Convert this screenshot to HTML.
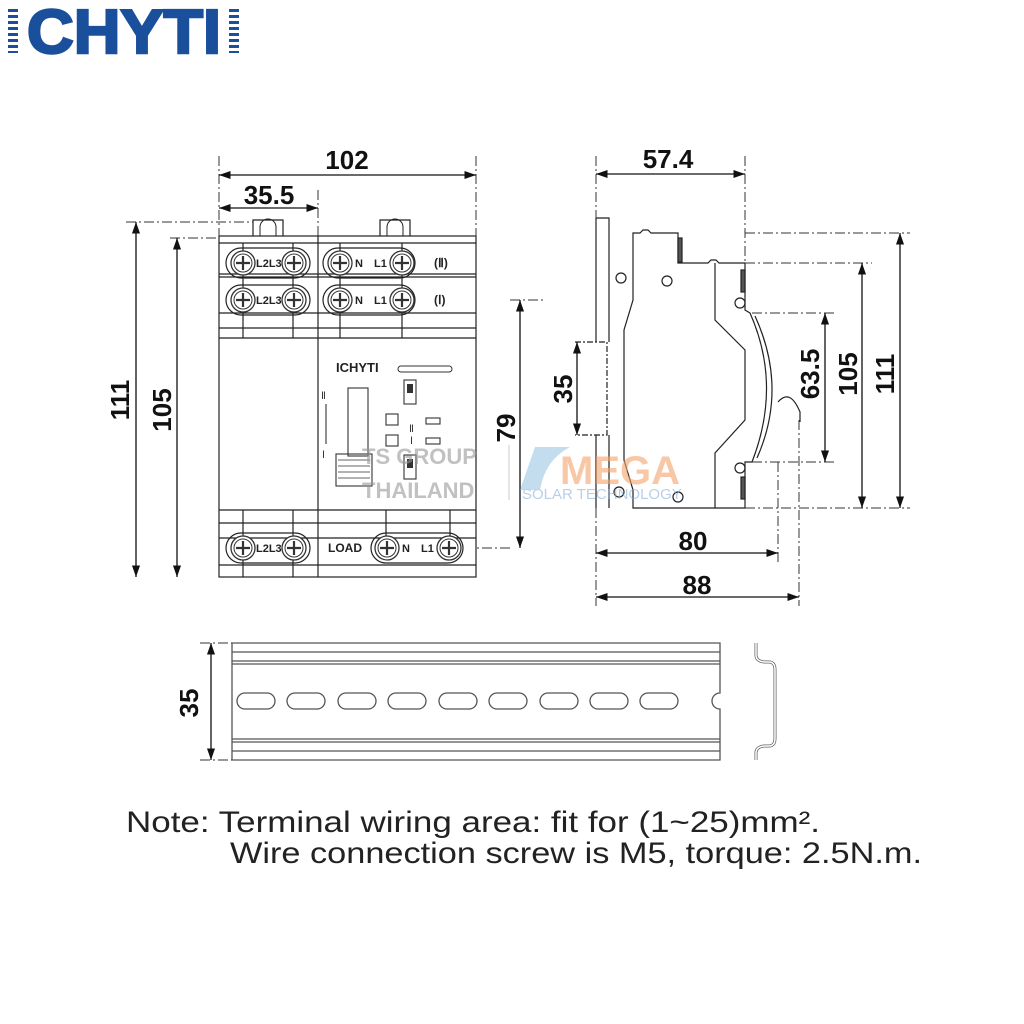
<!DOCTYPE html>
<html><head><meta charset="utf-8"><style>
html,body{margin:0;padding:0;background:#fff;}
svg{display:block;}
text{font-family:"Liberation Sans",sans-serif;}
</style></head><body>
<svg width="1024" height="1024" viewBox="0 0 1024 1024" xmlns="http://www.w3.org/2000/svg">
<defs>
<marker id="a" viewBox="0 0 10 10" refX="10" refY="5" markerWidth="9" markerHeight="9" orient="auto-start-reverse"><path d="M0,1.5 L10,5 L0,8.5 z" fill="#111"/></marker>
<g id="scr"><circle r="12" fill="#fff" stroke="#333" stroke-width="1.3"/><circle r="9" fill="none" stroke="#333" stroke-width="1"/><path d="M-7,0H7M0,-7V7" stroke="#333" stroke-width="2.2"/></g>
<g id="slot"><rect x="-19" y="-8" width="38" height="16" rx="8" fill="#fff" stroke="#555" stroke-width="1.3"/></g>
</defs>

<!-- logo -->
<g fill="#1a4f9c">
<g id="st"><rect x="8" y="9" width="10" height="3"/><rect x="8" y="15" width="10" height="3"/><rect x="8" y="21" width="10" height="3"/><rect x="8" y="27" width="10" height="3"/><rect x="8" y="33" width="10" height="3"/><rect x="8" y="39" width="10" height="3"/><rect x="8" y="45" width="10" height="3"/><rect x="8" y="51" width="10" height="2"/></g>
<use href="#st" x="221"/>
<text x="27" y="53" font-size="62" font-weight="bold" stroke="#1a4f9c" stroke-width="2.5" textLength="194" lengthAdjust="spacingAndGlyphs">CHYTI</text>
</g>

<g stroke="#222" stroke-width="1.2" fill="none">
<!-- front view -->
<rect x="219" y="236" width="257" height="341"/>
<line x1="318" y1="236" x2="318" y2="577"/>
<path d="M253,236V220H283V236M380,236V220H410V236"/>
<path d="M260,236v-9a8,8 0 0 1 16,0v9M387,236v-9a8,8 0 0 1 16,0v9" stroke-width="1"/>
<line x1="219" y1="243" x2="476" y2="243"/>
<line x1="219" y1="274" x2="476" y2="274"/><line x1="219" y1="277" x2="476" y2="277"/>
<line x1="219" y1="313" x2="476" y2="313"/><line x1="219" y1="328" x2="476" y2="328"/>
<line x1="219" y1="338" x2="476" y2="338"/>
<line x1="219" y1="510" x2="476" y2="510"/><line x1="219" y1="523" x2="476" y2="523"/>
<line x1="219" y1="538" x2="476" y2="538"/><line x1="219" y1="565" x2="476" y2="565"/>
<path d="M243,243V338M293,243V338M340,243V338M402,243V338M243,510V577M293,510V577M386,510V538M450,510V538"/>
<rect x="226" y="248" width="84" height="30" rx="15"/><rect x="323" y="248" width="92" height="30" rx="15"/>
<rect x="226" y="285" width="84" height="30" rx="15"/><rect x="323" y="285" width="92" height="30" rx="15"/>
<rect x="226" y="533" width="84" height="30" rx="15"/><rect x="371" y="533" width="92" height="30" rx="15"/>
</g>
<use href="#scr" x="243" y="263"/><use href="#scr" x="294" y="263"/><use href="#scr" x="340" y="263"/><use href="#scr" x="402" y="263"/>
<use href="#scr" x="243" y="300"/><use href="#scr" x="294" y="300"/><use href="#scr" x="340" y="300"/><use href="#scr" x="402" y="300"/>
<use href="#scr" x="243" y="548"/><use href="#scr" x="294" y="548"/><use href="#scr" x="387" y="548"/><use href="#scr" x="449" y="548"/>
<g font-size="11" font-weight="bold" fill="#222">
<text x="256" y="267">L2L3</text><text x="256" y="304">L2L3</text><text x="256" y="552">L2L3</text>
<text x="355" y="267">N</text><text x="374" y="267">L1</text>
<text x="355" y="304">N</text><text x="374" y="304">L1</text>
<text x="402" y="552">N</text><text x="421" y="552">L1</text>
<text x="328" y="552" font-size="12">LOAD</text>
<text x="434" y="267" font-size="12">(Ⅱ)</text><text x="434" y="304" font-size="12">(Ⅰ)</text>
</g>
<text x="336" y="372" font-size="13" font-weight="bold" fill="#222">ICHYTI</text>
<rect x="398" y="366" width="54" height="6" rx="3" fill="none" stroke="#333"/>
<g stroke="#333" fill="none" stroke-width="1.1">
<rect x="348" y="388" width="20" height="68"/>
<rect x="336" y="454" width="36" height="32"/>
<path d="M338,460H370M338,466H370M338,472H370M338,478H370" stroke-width="0.8"/>
<line x1="326" y1="404" x2="326" y2="444"/>
<rect x="404" y="380" width="12" height="24"/><rect x="404" y="455" width="12" height="24"/>
<rect x="386" y="414" width="12" height="11"/><rect x="386" y="435" width="12" height="11"/>
<rect x="426" y="418" width="14" height="6"/><rect x="426" y="438" width="14" height="6"/>
</g>
<rect x="407" y="384" width="6" height="9" fill="#333"/><rect x="407" y="459" width="6" height="9" fill="#333"/>
<g font-size="10" fill="#333" font-family="Liberation Serif"><text x="321" y="399">Ⅱ</text><text x="322" y="458">Ⅰ</text><text x="409" y="432">Ⅱ</text><text x="410" y="444">Ⅰ</text></g>

<!-- side view -->
<g stroke="#222" stroke-width="1.2" fill="none">
<path d="M596,218H609V233"/>
<path d="M596,218V342M596,435V508"/>
<path d="M609,233V342M609,435V508"/>
<path d="M575,342H607V435H575" stroke-dasharray="6,2,2,2"/>
<path d="M633,233H640l3,-3h5l3,3H678V263H708l3,-3h5l3,3H745V310L750,313 Q782,385 752,462L745,462V508H633V490L624,460V330L633,300Z"/>
<path d="M715,263V320L745,350V420L715,453V508"/>
<path d="M755,316 Q788,388 757,458" />
<rect x="678" y="238" width="4" height="24" fill="#555"/>
<rect x="741" y="270" width="4" height="22" fill="#555"/><rect x="741" y="477" width="4" height="22" fill="#555"/>
<path d="M778,402 q12,-14 22,10 v10" />
<circle cx="621" cy="278" r="5"/><circle cx="667" cy="281" r="5"/><circle cx="740" cy="303" r="5"/>
<circle cx="740" cy="468" r="5"/><circle cx="619" cy="492" r="5"/><circle cx="678" cy="497" r="5"/>
</g>

<!-- rail -->
<g stroke="#555" stroke-width="1.3" fill="none">
<path d="M232,643H720V693a8,8 0 0 0 0,16V760H232Z"/>
<line x1="232" y1="652" x2="720" y2="652"/><line x1="232" y1="661" x2="720" y2="661"/><line x1="232" y1="664" x2="720" y2="664"/>
<line x1="232" y1="739" x2="720" y2="739"/><line x1="232" y1="742" x2="720" y2="742"/><line x1="232" y1="751" x2="720" y2="751"/>
<path d="M756,643V655q0,6 8,7h5q6,0 6,8V738q0,8 -6,8h-5q-8,1 -8,7V760" stroke-width="3" stroke="#666"/>
<path d="M756,643V655q0,6 8,7h5q6,0 6,8V738q0,8 -6,8h-5q-8,1 -8,7V760" stroke-width="1.5" stroke="#fff"/>
</g>
<use href="#slot" x="256" y="701"/><use href="#slot" x="306" y="701"/><use href="#slot" x="357" y="701"/><use href="#slot" x="407" y="701"/><use href="#slot" x="458" y="701"/><use href="#slot" x="508" y="701"/><use href="#slot" x="559" y="701"/><use href="#slot" x="609" y="701"/><use href="#slot" x="659" y="701"/>

<g stroke="#333" stroke-width="1" stroke-dasharray="10,3,2,3" fill="none">
<path d="M219,156V236M476,156V236M318,190V236"/>
<path d="M126,222H253M170,238H219M510,300H545M510,548H476"/>
<path d="M596,156V218M745,156V263M596,508V606M778,462V565M799,420V606"/>
<path d="M745,233H910M745,263H872M752,313H835M752,462H835M745,508H910"/>
<path d="M200,643H232M200,760H232"/>
</g>
<g stroke="#111" stroke-width="1.3">
<line x1="219" y1="175" x2="476" y2="175" marker-start="url(#a)" marker-end="url(#a)"/>
<line x1="219" y1="208" x2="318" y2="208" marker-start="url(#a)" marker-end="url(#a)"/>
<line x1="136" y1="222" x2="136" y2="577" marker-start="url(#a)" marker-end="url(#a)"/>
<line x1="177" y1="238" x2="177" y2="577" marker-start="url(#a)" marker-end="url(#a)"/>
<line x1="520" y1="300" x2="520" y2="548" marker-start="url(#a)" marker-end="url(#a)"/>
<line x1="596" y1="174" x2="745" y2="174" marker-start="url(#a)" marker-end="url(#a)"/>
<line x1="596" y1="553" x2="778" y2="553" marker-start="url(#a)" marker-end="url(#a)"/>
<line x1="596" y1="597" x2="799" y2="597" marker-start="url(#a)" marker-end="url(#a)"/>
<line x1="825" y1="313" x2="825" y2="462" marker-start="url(#a)" marker-end="url(#a)"/>
<line x1="862" y1="263" x2="862" y2="508" marker-start="url(#a)" marker-end="url(#a)"/>
<line x1="900" y1="233" x2="900" y2="508" marker-start="url(#a)" marker-end="url(#a)"/>
<line x1="211" y1="643" x2="211" y2="760" marker-start="url(#a)" marker-end="url(#a)"/>
<line x1="577" y1="342" x2="577" y2="435" marker-start="url(#a)" marker-end="url(#a)"/>
</g>
<g font-size="26" font-weight="bold" fill="#111" text-anchor="middle">
<text x="347" y="169">102</text><text x="269" y="204">35.5</text>
<text x="668" y="168">57.4</text><text x="693" y="550">80</text><text x="697" y="594">88</text>
<text transform="translate(129,400) rotate(-90)">111</text>
<text transform="translate(171,410) rotate(-90)">105</text>
<text transform="translate(515,428) rotate(-90)">79</text>
<text transform="translate(572,389) rotate(-90)">35</text>
<text transform="translate(819,374) rotate(-90)">63.5</text>
<text transform="translate(857,374) rotate(-90)">105</text>
<text transform="translate(894,374) rotate(-90)">111</text>
<text transform="translate(198,703) rotate(-90)">35</text>
</g>

<g opacity="0.6">
<text x="362" y="464" font-size="22" font-weight="bold" fill="#999">TS GROUP</text>
<text x="362" y="498" font-size="22" font-weight="bold" fill="#999">THAILAND</text>
<line x1="509" y1="445" x2="509" y2="500" stroke="#aaa"/>
<path d="M520,490 L535,447 L570,447 Q545,460 540,490Z" fill="#9cc7e6"/>
<text x="560" y="484" font-size="40" font-weight="bold" fill="#f4a26a">MEGA</text>
<text x="522" y="499" font-size="15" fill="#8ab0d8">SOLAR TECHNOLOGY</text>
</g>

<g font-size="30" fill="#222">
<text x="126" y="832" textLength="694" lengthAdjust="spacingAndGlyphs">Note: Terminal wiring area: fit for (1~25)mm².</text>
<text x="230" y="863" textLength="692" lengthAdjust="spacingAndGlyphs">Wire connection screw is M5, torque: 2.5N.m.</text>
</g>
</svg>
</body></html>
